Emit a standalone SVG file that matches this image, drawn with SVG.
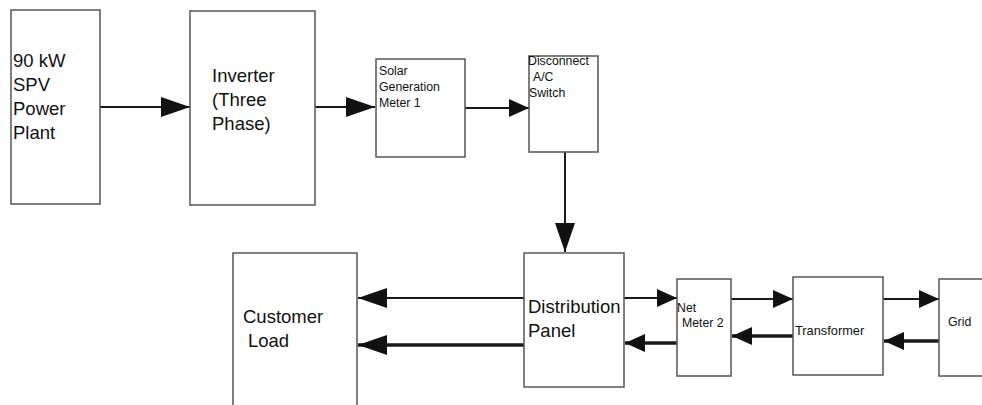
<svg xmlns="http://www.w3.org/2000/svg" width="982" height="405" viewBox="0 0 982 405">
<style>
.box{fill:#fff;stroke:#555;stroke-width:1.5}
.t{font-family:"Liberation Sans",Arial,sans-serif;fill:#111}
.big{font-size:18.5px}
.sm{font-size:12.3px}
.c{fill:none;stroke:#1a1a1a;stroke-width:2}
.ck{fill:none;stroke:#1a1a1a;stroke-width:3.5}
</style>
<defs>
<marker id="ahL" markerUnits="userSpaceOnUse" markerWidth="30" markerHeight="20" refX="29" refY="10" orient="auto">
<path d="M0,0 L29,10 L0,20 z" fill="#111"/>
</marker>
<marker id="ahS" markerUnits="userSpaceOnUse" markerWidth="21" markerHeight="18" refX="20" refY="9" orient="auto">
<path d="M0,0 L20,9 L0,18 z" fill="#111"/>
</marker>
</defs>
<rect width="982" height="405" fill="#fff"/>
<g id="connectors">
<line class="c" x1="100" y1="107" x2="190" y2="107" marker-end="url(#ahL)"/>
<line class="c" x1="315" y1="107" x2="375" y2="107" marker-end="url(#ahL)"/>
<line class="c" x1="465" y1="108" x2="529" y2="108" marker-end="url(#ahS)"/>
<line class="c" x1="565" y1="152" x2="565" y2="252" marker-end="url(#ahL)"/>
<line class="c" x1="524" y1="298" x2="358" y2="298" marker-end="url(#ahL)"/>
<line class="ck" x1="524" y1="345" x2="358" y2="345" marker-end="url(#ahL)"/>
<line class="c" x1="624" y1="298" x2="677" y2="298" marker-end="url(#ahS)"/>
<line class="ck" x1="677" y1="343" x2="625" y2="343" marker-end="url(#ahS)"/>
<line class="c" x1="731" y1="299" x2="793" y2="299" marker-end="url(#ahS)"/>
<line class="ck" x1="793" y1="336" x2="732" y2="336" marker-end="url(#ahS)"/>
<line class="c" x1="883" y1="299" x2="939" y2="299" marker-end="url(#ahS)"/>
<line class="ck" x1="939" y1="341" x2="884" y2="341" marker-end="url(#ahS)"/>
</g>
<g id="spv">
<rect class="box" x="11" y="10" width="89" height="194"/>
<text class="t big" x="13" y="67">90 kW</text>
<text class="t big" x="13" y="91">SPV</text>
<text class="t big" x="13" y="115">Power</text>
<text class="t big" x="13" y="139">Plant</text>
</g>
<g id="inverter">
<rect class="box" x="190" y="11" width="125" height="194"/>
<text class="t big" x="212" y="82">Inverter</text>
<text class="t big" x="212" y="106">(Three</text>
<text class="t big" x="212" y="130">Phase)</text>
</g>
<g id="meter1">
<rect class="box" x="376" y="59" width="89" height="98"/>
<text class="t sm" x="379" y="75">Solar</text>
<text class="t sm" x="379" y="91">Generation</text>
<text class="t sm" x="379" y="107">Meter 1</text>
</g>
<g id="disconnect">
<rect class="box" x="529" y="56" width="69" height="96"/>
<text class="t sm" x="528" y="65">Disconnect</text>
<text class="t sm" x="533" y="81">A/C</text>
<text class="t sm" x="529" y="97">Switch</text>
</g>
<g id="customer">
<rect class="box" x="233" y="253" width="124" height="170"/>
<text class="t big" x="243" y="323">Customer</text>
<text class="t big" x="248" y="347">Load</text>
</g>
<g id="distribution">
<rect class="box" x="524" y="253" width="100" height="134"/>
<text class="t big" x="528" y="313">Distribution</text>
<text class="t big" x="528" y="337">Panel</text>
</g>
<g id="netmeter">
<rect class="box" x="677" y="279" width="54" height="97"/>
<text class="t sm" x="677" y="312">Net</text>
<text class="t sm" x="682" y="327">Meter 2</text>
</g>
<g id="transformer">
<rect class="box" x="793" y="277" width="90" height="98"/>
<text class="t sm" x="795" y="335" style="font-size:12.8px">Transformer</text>
</g>
<g id="grid">
<rect class="box" x="939" y="279" width="60" height="97"/>
<text class="t sm" x="948" y="326">Grid</text>
</g>
</svg>
